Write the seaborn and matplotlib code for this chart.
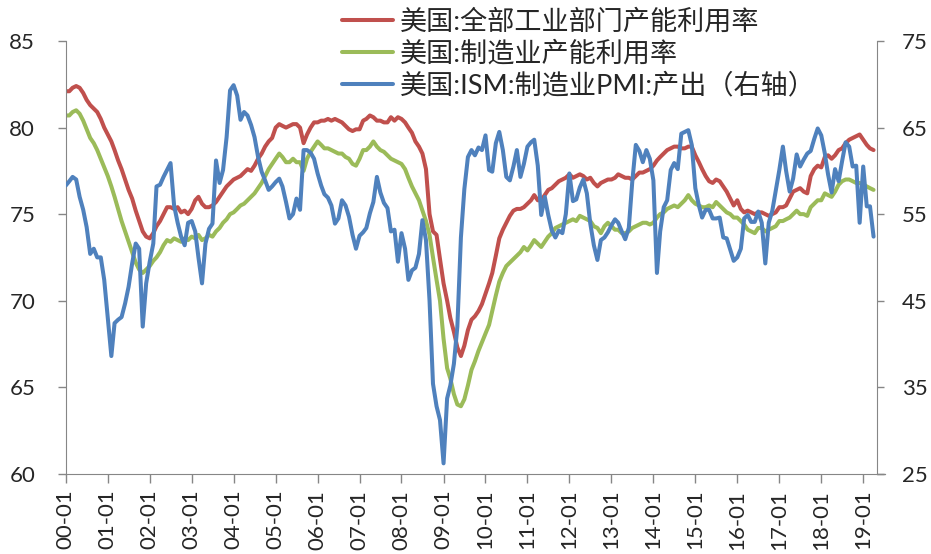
import matplotlib
matplotlib.use("Agg")
import matplotlib.pyplot as plt
import pandas as pd
import seaborn as sns

# ---- monthly data, Jan 2000 - Apr 2019 (one row per year) ----
total_util = [
    82.1, 82.1, 82.3, 82.4, 82.3, 82.0, 81.6, 81.3, 81.1, 80.9, 80.5, 80.0,   # 2000
    79.6, 79.2, 78.7, 78.1, 77.6, 77.0, 76.4, 75.9, 75.2, 74.6, 74.0, 73.7,   # 2001
    73.6, 73.9, 74.3, 74.6, 75.0, 75.4, 75.4, 75.3, 75.4, 75.1, 75.2, 75.0,   # 2002
    75.3, 75.8, 76.0, 75.6, 75.4, 75.4, 75.5, 75.7, 76.0, 76.3, 76.6, 76.8,   # 2003
    77.0, 77.1, 77.2, 77.4, 77.6, 77.5, 77.8, 78.2, 78.5, 78.9, 79.2, 79.4,   # 2004
    80.0, 80.2, 80.1, 80.0, 80.1, 80.2, 80.2, 80.0, 79.1, 79.6, 80.0, 80.3,   # 2005
    80.3, 80.4, 80.4, 80.5, 80.4, 80.5, 80.4, 80.3, 80.1, 79.9, 79.8, 79.9,   # 2006
    79.9, 80.4, 80.5, 80.7, 80.6, 80.4, 80.4, 80.3, 80.3, 80.6, 80.4, 80.6,   # 2007
    80.5, 80.3, 80.0, 79.7, 79.2, 78.9, 78.5, 77.6, 75.0, 74.0, 73.8, 72.4,   # 2008
    71.0, 70.0, 69.0, 68.2, 67.3, 66.8, 67.4, 68.3, 68.9, 69.1, 69.4, 69.8,   # 2009
    70.4, 71.0, 71.6, 72.6, 73.6, 74.1, 74.5, 74.9, 75.2, 75.3, 75.3, 75.4,   # 2010
    75.6, 75.8, 76.1, 75.8, 75.8, 76.1, 76.4, 76.5, 76.7, 76.9, 77.0, 77.1,   # 2011
    77.3, 77.1, 77.2, 77.3, 77.2, 77.0, 77.1, 76.8, 76.6, 76.8, 76.9, 77.0,   # 2012
    77.0, 77.1, 77.3, 77.2, 77.1, 77.1, 77.0, 77.2, 77.4, 77.4, 77.5, 77.6,   # 2013
    77.8, 78.1, 78.3, 78.5, 78.7, 78.8, 78.9, 78.9, 78.8, 78.8, 78.9, 78.9,   # 2014
    78.4, 78.0, 77.6, 77.2, 76.9, 76.8, 77.0, 76.9, 76.6, 76.3, 75.9, 75.5,   # 2015
    75.8, 75.3, 75.1, 75.2, 75.1, 75.0, 75.1, 75.1, 75.0, 74.9, 75.0, 75.1,   # 2016
    75.4, 75.4, 75.5, 75.9, 76.3, 76.4, 76.5, 76.3, 76.2, 77.2, 77.6, 77.8,   # 2017
    77.7, 78.3, 78.4, 78.2, 78.4, 78.7, 78.8, 79.1, 79.3, 79.4, 79.5, 79.6,   # 2018
    79.3, 79.0, 78.8, 78.7,                                                   # 2019
]

mfg_util = [
    80.7, 80.7, 80.9, 81.0, 80.8, 80.4, 79.9, 79.4, 79.1, 78.7, 78.2, 77.7,   # 2000
    77.2, 76.6, 76.0, 75.3, 74.6, 74.0, 73.4, 72.8, 72.2, 71.8, 71.6, 71.8,   # 2001
    72.0, 72.3, 72.5, 72.8, 73.2, 73.5, 73.4, 73.6, 73.5, 73.4, 73.6, 73.5,   # 2002
    73.7, 73.6, 73.8, 73.5, 73.6, 73.8, 73.7, 74.0, 74.2, 74.5, 74.7, 75.0,   # 2003
    75.1, 75.3, 75.5, 75.6, 75.8, 76.0, 76.2, 76.5, 76.8, 77.2, 77.6, 77.9,   # 2004
    78.2, 78.5, 78.3, 78.0, 78.0, 78.2, 78.0, 78.0, 77.5, 78.2, 78.6, 78.9,   # 2005
    79.2, 79.0, 78.8, 78.8, 78.7, 78.6, 78.5, 78.5, 78.3, 78.2, 77.9, 77.8,   # 2006
    78.2, 78.7, 78.7, 78.9, 79.2, 78.9, 78.7, 78.6, 78.4, 78.2, 78.1, 78.0,   # 2007
    77.9, 77.6, 77.1, 76.6, 76.2, 75.8, 75.2, 74.6, 73.8, 72.5, 71.2, 70.0,   # 2008
    67.8, 66.1, 65.5, 64.6, 64.0, 63.9, 64.3, 65.1, 66.0, 66.5, 67.1, 67.6,   # 2009
    68.1, 68.6, 69.4, 70.3, 71.1, 71.6, 72.0, 72.2, 72.4, 72.6, 72.8, 73.1,   # 2010
    72.9, 73.2, 73.5, 73.3, 73.1, 73.4, 73.7, 73.9, 74.2, 74.3, 74.4, 74.5,   # 2011
    74.6, 74.7, 74.6, 74.9, 74.8, 74.7, 74.6, 74.3, 74.2, 73.9, 74.3, 74.5,   # 2012
    74.3, 74.1, 74.1, 73.9, 73.9, 74.0, 74.2, 74.3, 74.4, 74.5, 74.5, 74.4,   # 2013
    74.5, 74.8, 75.0, 75.1, 75.3, 75.4, 75.5, 75.4, 75.6, 75.8, 76.1, 75.8,   # 2014
    75.6, 75.5, 75.4, 75.4, 75.5, 75.4, 75.7, 75.5, 75.3, 75.1, 75.0, 74.8,   # 2015
    74.8, 74.6, 74.4, 74.1, 74.0, 73.9, 74.2, 74.2, 74.0, 74.1, 74.2, 74.3,   # 2016
    74.6, 74.6, 74.7, 74.8, 75.0, 75.2, 75.0, 75.0, 74.9, 75.4, 75.6, 75.8,   # 2017
    75.8, 76.2, 76.1, 76.0, 76.3, 76.7, 76.9, 77.0, 77.0, 76.9, 76.8, 76.8,   # 2018
    76.7, 76.6, 76.5, 76.4,                                                   # 2019
]

ism_output = [
    58.3, 58.8, 59.3, 59.0, 57.0, 55.5, 53.5, 50.4, 51.0, 50.0, 50.0, 47.4,   # 2000
    43.0, 38.6, 42.4, 42.8, 43.1, 44.7, 46.6, 49.3, 51.6, 51.0, 42.0, 47.0,   # 2001
    49.5, 51.6, 58.2, 58.4, 59.3, 60.1, 60.9, 56.0, 54.0, 52.4, 51.4, 54.0,   # 2002
    54.2, 53.0, 50.0, 47.0, 51.6, 53.3, 53.9, 61.2, 58.6, 60.1, 63.9, 69.3,   # 2003
    69.9, 68.7, 65.9, 66.8, 66.4, 65.3, 63.9, 61.6, 59.9, 58.9, 57.8, 58.2,   # 2004
    58.7, 59.1, 58.2, 56.4, 54.5, 55.0, 56.8, 55.5, 62.4, 62.4, 62.1, 61.4,   # 2005
    59.7, 58.3, 57.3, 56.9, 56.0, 53.9, 54.5, 56.6, 56.0, 54.7, 52.6, 51.0,   # 2006
    52.5, 52.9, 53.4, 55.1, 56.4, 59.3, 57.5, 56.3, 55.7, 53.0, 53.2, 49.5,   # 2007
    52.8, 51.0, 47.4, 48.5, 48.8, 50.4, 54.3, 52.0, 45.0, 35.4, 32.8, 31.2,   # 2008
    26.2, 33.7, 35.2, 37.7, 42.0, 52.3, 57.9, 61.6, 62.4, 61.8, 62.7, 62.4,   # 2009
    64.1, 60.1, 59.9, 63.2, 64.5, 62.4, 59.3, 58.9, 60.5, 62.4, 59.3, 60.8,   # 2010
    62.8, 63.3, 63.6, 60.6, 54.9, 57.0, 54.9, 53.1, 52.3, 53.1, 52.8, 55.0,   # 2011
    59.7, 56.5, 56.7, 58.1, 59.0, 57.4, 53.9, 51.4, 49.7, 52.0, 52.3, 52.9,   # 2012
    53.7, 54.4, 54.0, 53.0, 52.1, 53.4, 58.7, 63.0, 62.3, 61.0, 62.4, 61.4,   # 2013
    58.9, 48.2, 53.0, 55.8, 56.6, 60.1, 60.9, 60.2, 64.3, 64.5, 64.7, 63.0,   # 2014
    58.0, 56.0, 54.6, 55.5, 55.5, 54.5, 54.5, 54.6, 52.3, 52.2, 50.9, 49.6,   # 2015
    50.0, 51.0, 54.5, 54.9, 54.1, 54.1, 55.3, 54.0, 49.3, 54.0, 55.4, 57.7,   # 2016
    60.1, 62.8, 60.0, 57.6, 59.1, 61.9, 60.5, 61.3, 62.0, 62.3, 63.7, 64.9,   # 2017
    64.1, 62.0, 59.6, 57.5, 60.2, 58.8, 61.1, 63.3, 62.8, 60.5, 60.6, 54.0,   # 2018
    60.5, 55.9, 55.9, 52.4,                                                   # 2019
]

series_names = [
    "美国:全部工业部门产能利用率",
    "美国:制造业产能利用率",
    "美国:ISM:制造业PMI:产出（右轴）",
]
tick_labels = [f"{y:02d}-01" for y in range(0, 20)]
left_ticks = [60, 65, 70, 75, 80, 85]
right_ticks = [25, 35, 45, 55, 65, 75]

RED, GREEN, BLUE = "#C0504D", "#9BBB59", "#4F81BD"
AXIS_GREY = "#868686"
TEXT = "#262626"

dates = pd.date_range("2000-01-01", periods=len(total_util), freq="MS")
df = pd.DataFrame({"date": dates, "total": total_util,
                   "mfg": mfg_util, "ism": ism_output})

sns.set_style("white")
plt.rcParams["font.family"] = ["Lato", "Noto Sans CJK SC"]

fig = plt.figure(figsize=(9.31, 5.54), dpi=100)
ax = fig.add_axes([0.0706, 0.1449, 0.8714, 0.781])
ax2 = ax.twinx()

lw = 2.9
sns.lineplot(data=df, x="date", y="total", ax=ax, color=RED, lw=lw, legend=False)
sns.lineplot(data=df, x="date", y="mfg", ax=ax, color=GREEN, lw=lw, legend=False)
sns.lineplot(data=df, x="date", y="ism", ax=ax2, color=BLUE, lw=lw, legend=False)

# x axis: one tick per January
ax.set_xlim(pd.Timestamp("2000-01-01"), pd.Timestamp("2019-05-01"))
year_ticks = pd.date_range("2000-01-01", "2019-01-01", freq="YS")
ax.set_xticks(year_ticks)
ax.set_xticklabels(tick_labels, rotation=90, fontsize=16, color=TEXT)

ax.set_ylim(60, 85)
ax.set_yticks(left_ticks)
ax.set_yticklabels([str(v) for v in left_ticks], fontsize=16, color=TEXT)
ax2.set_ylim(25, 75)
ax2.set_yticks(right_ticks)
ax2.set_yticklabels([str(v) for v in right_ticks], fontsize=16, color=TEXT)

for a in (ax, ax2):
    a.set_xlabel("")
    a.set_ylabel("")
    a.grid(False)
    a.spines["top"].set_visible(False)
ax.spines["right"].set_visible(False)
ax2.spines["left"].set_visible(False)
ax2.spines["bottom"].set_visible(False)
ax.spines["left"].set_color(AXIS_GREY)
ax.spines["bottom"].set_color(AXIS_GREY)
ax2.spines["right"].set_color(AXIS_GREY)

ax.tick_params(axis="x", bottom=True, direction="out", length=6.5, width=1,
               color=AXIS_GREY, pad=5)
ax.tick_params(axis="y", left=True, direction="out", length=6, width=1,
               color=AXIS_GREY, pad=16)
ax2.tick_params(axis="y", right=True, direction="out", length=5, width=1,
                color=AXIS_GREY, pad=13)

# horizontal axis line runs slightly past the right axis
ax.plot([1, 1 + 8 / 811], [0, 0], transform=ax.transAxes, color=AXIS_GREY,
        lw=1, clip_on=False)

handles = [ax.lines[0], ax.lines[1], ax2.lines[0]]
fig.legend(handles, series_names, loc="upper left",
           bbox_to_anchor=(342 / 931, 1 - 9 / 554), frameon=False,
           fontsize=19.5, handlelength=1.9, handletextpad=0.25,
           labelspacing=0.22, borderpad=0, borderaxespad=0)
for t in fig.legends[0].get_texts():
    t.set_color(TEXT)

fig.savefig("out.png", dpi=100)
